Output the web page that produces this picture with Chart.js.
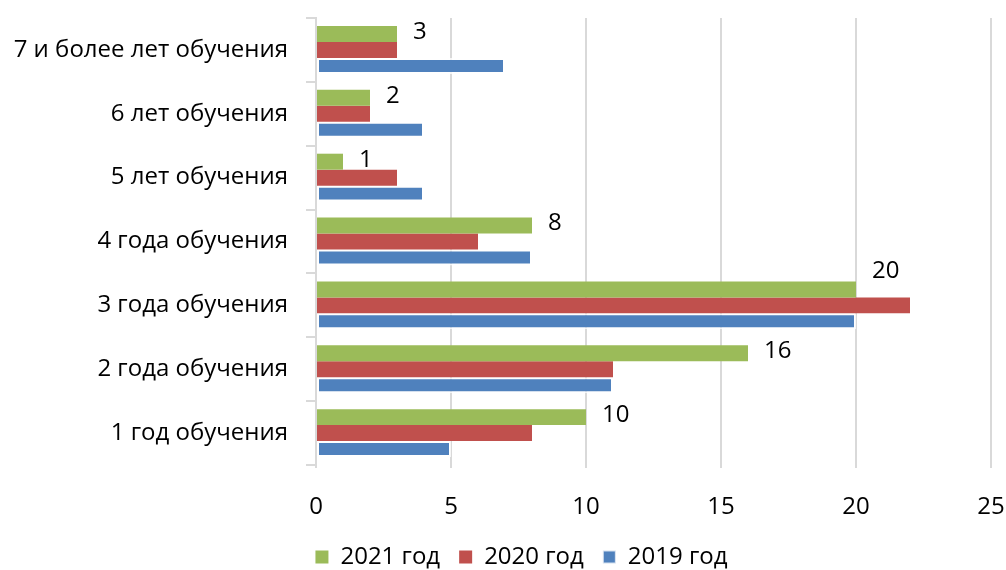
<!DOCTYPE html>
<html>
<head>
<meta charset="utf-8">
<script src="https://cdn.jsdelivr.net/npm/chart.js@4"></script>
<style>
  html, body { margin: 0; padding: 0; background: #fff; }
  #wrap { width: 1006px; height: 570px; }
</style>
</head>
<body>
<div id="wrap"><canvas id="chart" width="1006" height="570"></canvas></div>
<script>
// Categories, top to bottom as in the picture
const categories = [
  '7 и более лет обучения',
  '6 лет обучения',
  '5 лет обучения',
  '4 года обучения',
  '3 года обучения',
  '2 года обучения',
  '1 год обучения'
];

const values2021 = [3, 2, 1, 8, 20, 16, 10];
const values2020 = [3, 2, 3, 6, 22, 11, 8];
const values2019 = [7, 4, 4, 8, 20, 11, 5];

const xTicks = [0, 5, 10, 15, 20, 25];

const FONT = '"Open Sans", "Noto Sans", sans-serif';
const GRID = '#d9d9d9';

// Value labels for the 2021 series, written just past the bar end
const labelNudge = { 4: -16 };
const valueLabels = {
  id: 'valueLabels',
  afterDatasetsDraw(chart) {
    const ctx = chart.ctx;
    const meta = chart.getDatasetMeta(0);
    ctx.save();
    ctx.font = '24px ' + FONT;
    ctx.fillStyle = '#000';
    ctx.textAlign = 'left';
    ctx.textBaseline = 'middle';
    meta.data.forEach((bar, i) => {
      const dy = labelNudge[i] || 0;
      ctx.fillText(String(values2021[i]), bar.x + 16, bar.y - 2 + dy);
    });
    ctx.restore();
  }
};

// Move the legend a bit right and up, like the original
// (legend clips to its own box, so only the top edge moves up)
const legendShift = {
  id: 'legendShift',
  afterLayout(chart) {
    const lg = chart.legend;
    if (!lg) return;
    lg.left += 26; lg.right += 26;
    lg.top -= 6;
  }
};

new Chart(document.getElementById('chart'), {
  type: 'bar',
  data: {
    labels: categories,
    datasets: [
      {
        label: '2021 год',
        data: values2021,
        backgroundColor: '#9bbb59',
        categoryPercentage: 0.75,
        barPercentage: 1
      },
      {
        label: '2020 год',
        data: values2020,
        backgroundColor: '#c0504d',
        categoryPercentage: 0.75,
        barPercentage: 1
      },
      {
        label: '2019 год',
        data: values2019,
        backgroundColor: '#4f81bd',
        borderColor: 'rgba(255,255,255,0.75)',
        borderWidth: 2,
        borderSkipped: false,
        categoryPercentage: 0.75,
        barPercentage: 1
      }
    ]
  },
  options: {
    indexAxis: 'y',
    responsive: false,
    animation: false,
    layout: { padding: { left: 0, right: 15, top: 18, bottom: 0 } },
    plugins: {
      legend: {
        position: 'bottom',
        maxHeight: 38,
        labels: {
          boxWidth: 13,
          boxHeight: 13,
          padding: 19,
          color: '#000',
          font: { family: FONT, size: 24 }
        }
      },
      tooltip: { enabled: false }
    },
    scales: {
      x: {
        min: 0,
        max: 25,
        afterBuildTicks(scale) {
          scale.ticks = xTicks.map(v => ({ value: v }));
        },
        afterFit(scale) {
          scale.height = 67;
          scale.paddingLeft = 0;
          scale.paddingRight = 0;
        },
        grid: { color: GRID, lineWidth: 2, tickLength: 3 },
        border: { display: false },
        ticks: {
          color: '#000',
          padding: 25,
          font: { family: FONT, size: 24 }
        }
      },
      y: {
        afterFit(scale) {
          scale.width = 316;
          scale.paddingTop = 0;
          scale.paddingBottom = 0;
        },
        grid: { drawOnChartArea: false, color: GRID, lineWidth: 2, tickLength: 10 },
        border: { display: true, color: GRID, width: 2 },
        ticks: {
          color: '#000',
          padding: 18,
          font: { family: FONT, size: 24 }
        }
      }
    }
  },
  plugins: [valueLabels, legendShift]
});
</script>
</body>
</html>
